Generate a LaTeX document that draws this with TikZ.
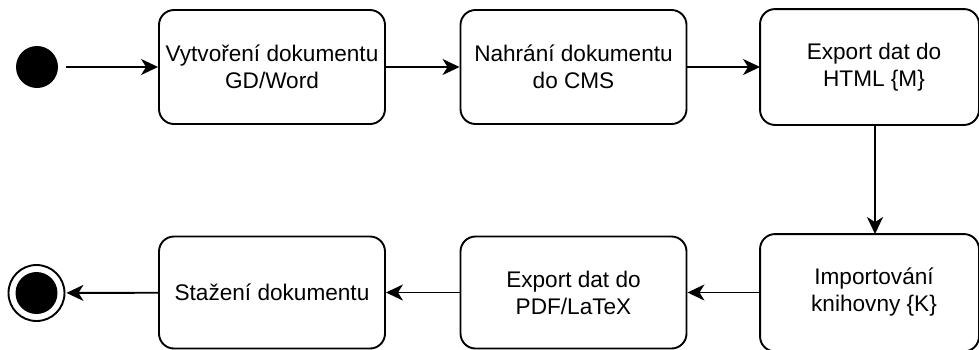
\documentclass[tikz,border=0pt]{standalone}
\usepackage{fontspec}
\setmainfont{Liberation Sans}
\usetikzlibrary{arrows.meta}
\tikzset{
  state/.style={draw, line width=1.9pt, rounded corners=15pt,
    minimum width=226pt, minimum height=114pt, align=center,
    font=\fontsize{22.6}{27}\selectfont},
  label only/.style={state, draw=none},
  flow/.style={line width=1.9pt, sharp corners, arrows={-Stealth[length=17pt,width=16pt,inset=5pt]}}
}
\begin{document}
\begin{tikzpicture}[x=1pt,y=-1pt]
\useasboundingbox (0,0) rectangle (979,349);
% initial and final pseudo-states
\node[circle, fill=black, minimum size=42pt, inner sep=0pt] (start) at (37,67) {};
\node[circle, draw, line width=1.9pt, minimum size=56pt, inner sep=0pt] (stop) at (36.5,293) {};
\node[circle, fill=black, minimum size=42pt, inner sep=0pt] (stopdot) at (36.5,293) {};
% top row
\node[state] (create) at (272,67) {Vytvoření dokumentu\\GD/Word};
\node[state] (upload) at (573.5,67) {Nahrání dokumentu\\do CMS};
\node[label only] (html) at (874,67) {Export dat do\\HTML \{M\}};
\draw[line width=1.9pt, rounded corners=15pt] (html.north west) rectangle ([xshift=-9pt]html.south east);
% bottom row
\node[label only] (import) at (874,292.5) {Importování\\knihovny \{K\}};
\draw[line width=1.9pt, rounded corners=15pt] ([yshift=0.5pt]import.north west) rectangle ([xshift=-9pt,yshift=-1pt]import.south east);
\node[state, minimum height=112pt] (pdf) at (573.5,292.5) {Export dat do\\PDF/LaTeX};
\node[state, minimum height=112pt] (download) at (272,292.5) {Stažení dokumentu};
% transitions
\draw[flow, shorten <=8pt] (start) -- (create);
\draw[flow] (create) -- (upload);
\draw[flow] (upload) -- (html);
\draw[flow] ([xshift=1pt]html.south) -- ([xshift=1pt,yshift=0.5pt]import.north);
\draw[flow] (import) -- (pdf);
\draw[flow] (pdf) -- (download);
\draw[flow, shorten >=1pt] (download) -- (stop);
\end{tikzpicture}
\end{document}
